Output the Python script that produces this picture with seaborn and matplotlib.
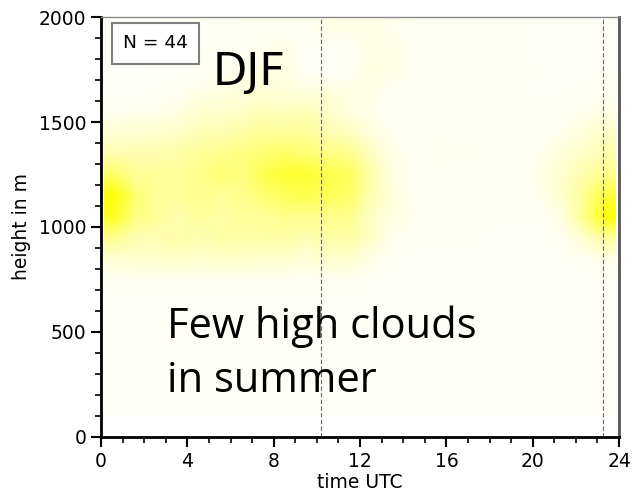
import numpy as np
import matplotlib
matplotlib.use("Agg")
import matplotlib.pyplot as plt
from matplotlib.colors import LinearSegmentedColormap
from matplotlib.ticker import MultipleLocator
import seaborn as sns

# ---- data (cloud frequency, 0..1) ----
time_centers = [t + 0.5 for t in range(24)]          # hours UTC
height_centers = [1950, 1850, 1750, 1650, 1550, 1450, 1350, 1250, 1150, 1050,
                  950, 850, 750, 650, 550, 450, 350, 250, 150]   # m, top to bottom
bg = 0.03
row_1950 = [0.02,0.02,0.02,0.03,0.04,0.05,0.05,0.06,0.06,0.05,0.10,0.10,0.10,0.08,0.05,0.04,0.04,0.04,0.04,0.04,0.03,0.03,0.03,0.03]
row_1850 = [0.02,0.02,0.02,0.03,0.04,0.05,0.05,0.08,0.10,0.03,0.04,0.05,0.10,0.10,0.05,0.04,0.04,0.04,0.05,0.04,0.03,0.03,0.03,0.03]
row_1750 = [0.02,0.02,0.03,0.03,0.05,0.06,0.08,0.10,0.12,0.03,0.03,0.05,0.12,0.10,0.05,0.04,0.04,0.04,0.07,0.06,0.03,0.03,0.03,0.04]
row_1650 = [0.03,0.03,0.04,0.05,0.09,0.11,0.13,0.16,0.14,0.12,0.13,0.10,0.10,0.06,0.04,0.04,0.04,0.04,0.06,0.05,0.03,0.03,0.05,0.06]
row_1550 = [0.06,0.08,0.08,0.12,0.18,0.20,0.22,0.28,0.25,0.28,0.22,0.12,0.08,0.04,0.04,0.04,0.04,0.04,0.04,0.04,0.04,0.05,0.08,0.10]
row_1450 = [0.18,0.18,0.20,0.22,0.28,0.30,0.35,0.40,0.40,0.40,0.30,0.25,0.14,0.06,0.05,0.07,0.05,0.05,0.04,0.04,0.05,0.08,0.14,0.22]
row_1350 = [0.30,0.30,0.32,0.35,0.40,0.45,0.50,0.55,0.60,0.55,0.50,0.45,0.25,0.10,0.05,0.08,0.07,0.08,0.04,0.04,0.08,0.15,0.22,0.32]
row_1250 = [0.60,0.40,0.40,0.40,0.45,0.55,0.50,0.70,0.80,0.80,0.70,0.65,0.35,0.12,0.06,0.06,0.05,0.05,0.04,0.04,0.10,0.20,0.32,0.45]
row_1150 = [0.95,0.55,0.40,0.40,0.45,0.40,0.45,0.55,0.65,0.70,0.65,0.60,0.30,0.14,0.06,0.04,0.04,0.04,0.04,0.04,0.08,0.20,0.42,0.75]
row_1050 = [0.85,0.50,0.40,0.30,0.40,0.35,0.40,0.40,0.45,0.45,0.45,0.45,0.25,0.12,0.08,0.04,0.04,0.04,0.04,0.04,0.04,0.12,0.45,0.95]
row_950  = [0.45,0.30,0.30,0.35,0.30,0.35,0.35,0.35,0.35,0.30,0.35,0.35,0.22,0.08,0.04,0.04,0.04,0.04,0.03,0.03,0.03,0.06,0.20,0.40]
row_850  = [0.18,0.20,0.20,0.22,0.20,0.22,0.22,0.20,0.20,0.15,0.20,0.20,0.10,0.04,0.03,0.03,0.03,0.03,0.03,0.03,0.03,0.03,0.06,0.10]
row_750  = [0.05,0.06,0.06,0.07,0.06,0.06,0.06,0.06,0.06,0.05,0.06,0.06,0.04,0.03,0.03,0.03,0.03,0.03,0.03,0.03,0.03,0.03,0.03,0.04]
row_low  = [bg] * 24   # 650 m and below

event_times = [10.2, 23.25]      # dashed vertical markers (h UTC)
n_label = "N = 44"
season = "DJF"
note = "Few high clouds\nin summer"
x_ticks = [0, 4, 8, 12, 16, 20, 24]
y_ticks = [0, 500, 1000, 1500, 2000]

grid = np.array([row_1950, row_1850, row_1750, row_1650, row_1550, row_1450,
                 row_1350, row_1250, row_1150, row_1050, row_950, row_850,
                 row_750] + [row_low] * 6)

# ---- style ----
sns.set_style("ticks")
plt.rcParams["font.family"] = ["DejaVu Sans"]
plt.rcParams["text.color"] = "black"
plt.rcParams["axes.labelcolor"] = "black"

fig = plt.figure(figsize=(6.33, 4.96), dpi=100)
ax = fig.add_axes([0.1596, 0.119, 0.8184, 0.8467])

cmap = LinearSegmentedColormap.from_list("wy", ["#ffffff", "#ffff00"])
ax.imshow(grid, cmap=cmap, vmin=0, vmax=1, aspect="auto",
          interpolation="bilinear", extent=[0.15, 23.85, 100, 2000], origin="upper")

for t in event_times:
    ax.axvline(t, color="#666666", lw=0.8, ls=(0, (4, 2)))

ax.set_xlim(0, 24)
ax.set_ylim(0, 2000)
ax.set_xticks(x_ticks)
ax.set_yticks(y_ticks)
ax.xaxis.set_minor_locator(MultipleLocator(1))
ax.yaxis.set_minor_locator(MultipleLocator(100))
ax.tick_params(which="major", direction="out", length=7, width=1.5, labelsize=13.5,
               colors="black", top=False, right=False)
ax.tick_params(which="minor", direction="out", length=4, width=1.2, colors="black",
               top=False, right=False)
ax.set_xlabel("time UTC", fontsize=13.5, labelpad=2)
ax.set_ylabel("height in m", fontsize=13.5, labelpad=6)

ax.spines["left"].set_linewidth(2)
ax.spines["bottom"].set_linewidth(2)
ax.spines["left"].set_color("black")
ax.spines["bottom"].set_color("black")
ax.spines["top"].set_color("#888888")
ax.spines["top"].set_linewidth(1)
ax.spines["right"].set_color("#555555")
ax.spines["right"].set_linewidth(2)

ax.text(0.105, 0.937, n_label, transform=ax.transAxes, fontsize=13.3,
        ha="center", va="center", color="black",
        bbox=dict(boxstyle="square,pad=0.6", fc="white", ec="#808080", lw=1.5))
ax.text(0.216, 0.838, season, transform=ax.transAxes, fontsize=32,
        ha="left", va="baseline", color="black")
ax.text(0.127, 0.107, note, transform=ax.transAxes, fontsize=30,
        family=["Open Sans", "DejaVu Sans"], ha="left", va="baseline",
        linespacing=1.38, color="black")

fig.savefig("out.png", dpi=100)
